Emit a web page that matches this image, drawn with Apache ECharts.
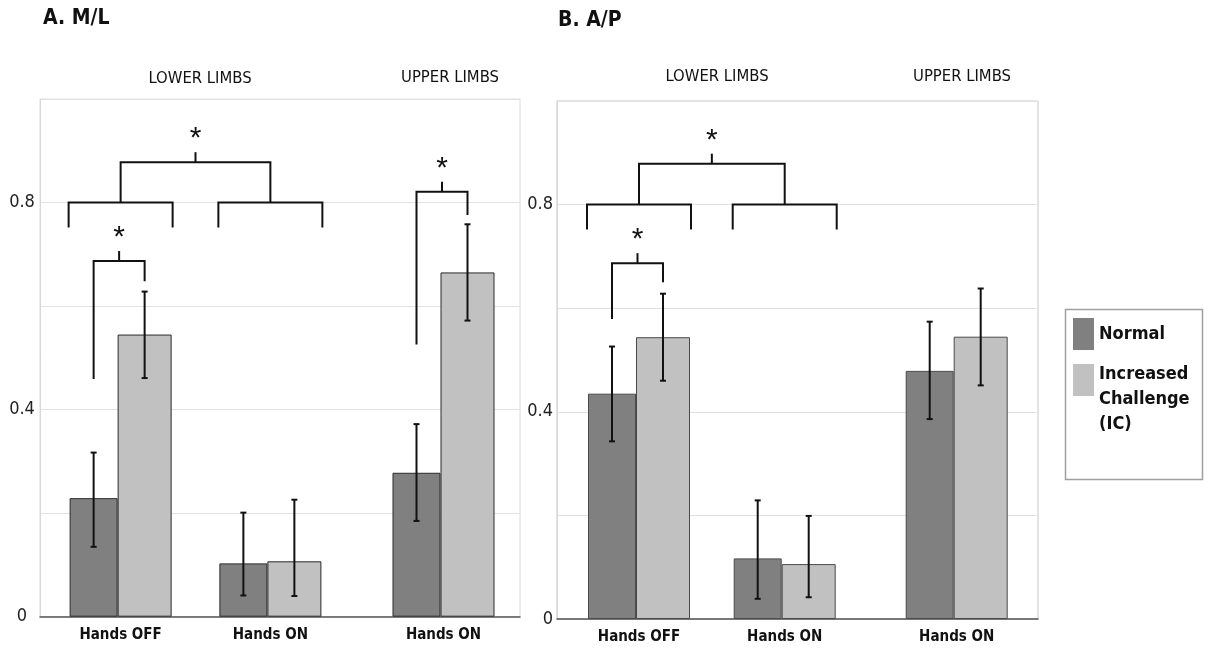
<!DOCTYPE html>
<html>
<head>
<meta charset="utf-8">
<script src="https://cdn.jsdelivr.net/npm/echarts@6/dist/echarts.min.js"></script>
<style>
  html, body { margin: 0; padding: 0; background: #fff; }
  #chart { width: 1210px; height: 652px; }
</style>
</head>
<body>
<div id="chart"></div>
<script>
// ---------------- DATA ----------------
const lowerCats = ['Hands OFF', 'Hands ON'];
const upperCats = ['Hands ON'];
const seriesNames = ['Normal', 'Increased Challenge (IC)'];
const panelTitles = ['A. M/L', 'B. A/P'];
const groupTitles = ['LOWER LIMBS', 'UPPER LIMBS'];
const yTickLabels = ['0', '', '0.4', '', '0.8', ''];   // ticks 0, 0.2, ... 1.0

// Panel A (M/L): means
const mlNormalLower = [0.229, 0.103];
const mlICLower = [0.545, 0.107];
const mlNormalUpper = [0.278];
const mlICUpper = [0.665];
// Panel A: error bars [low, high]
const mlNormalLowerErr = [[0.135, 0.317], [0.041, 0.201]];
const mlICLowerErr = [[0.461, 0.628], [0.040, 0.226]];
const mlNormalUpperErr = [[0.185, 0.372]];
const mlICUpperErr = [[0.572, 0.758]];

// Panel B (A/P): means
const apNormalLower = [0.435, 0.117];
const apICLower = [0.544, 0.106];
const apNormalUpper = [0.479];
const apICUpper = [0.545];
// Panel B: error bars [low, high]
const apNormalLowerErr = [[0.343, 0.526], [0.039, 0.229]];
const apICLowerErr = [[0.460, 0.628], [0.042, 0.199]];
const apNormalUpperErr = [[0.386, 0.574]];
const apICUpperErr = [[0.451, 0.638]];

// Significance annotations (data units): [category, bracket level, Normal leg end, IC leg end]
const mlPairLower = [[0, 0.687, 0.459, 0.648]];
const mlPairUpper = [[0, 0.821, 0.526, 0.776]];
const apPairLower = [[0, 0.687, 0.579, 0.650]];
const apPairUpper = [];
// Group comparison (lower limbs): [sub-bracket level, leg end, top bracket level]
const mlGroupBracket = [[0.80, 0.752, 0.878]];
const apGroupBracket = [[0.80, 0.752, 0.879]];

// ---------------- STYLE / LAYOUT ----------------
const NARROW = "'DejaVu Sans Condensed', 'Liberation Sans Narrow', 'Liberation Sans', sans-serif";
const C_NORMAL = '#808080';
const C_IC = '#c1c1c1';
const BAR_N = 48, BAR_IC = 54;
const OFF_N = -(BAR_N + BAR_IC) / 2 + BAR_N / 2;
const OFF_IC = -(BAR_N + BAR_IC) / 2 + BAR_N + BAR_IC / 2;
const HALF_GROUP = 52;
const TICK = 10, STAR_GAP = 13;
const INK = '#111';

const panels = [
  { bg: { left: 40, top: 99, right: 690, bottom: 35.3 },
    lower: { left: 45.75, width: 299.5 }, upper: { left: 368.75, width: 149.5 },
    labelAlign: 'center', labelMargin: 18, frame: '#dcdcdc', edge: '#2a2a2a',
    nL: mlNormalLower, iL: mlICLower, nU: mlNormalUpper, iU: mlICUpper,
    nLE: mlNormalLowerErr, iLE: mlICLowerErr, nUE: mlNormalUpperErr, iUE: mlICUpperErr,
    pL: mlPairLower, pU: mlPairUpper, gB: mlGroupBracket },
  { bg: { left: 557, top: 101, right: 172, bottom: 33 },
    lower: { left: 566.15, width: 291.4 }, upper: { left: 883.85, width: 145.7 },
    labelAlign: 'right', labelMargin: 4, frame: '#c8c8c8', edge: '#4a4a4a',
    nL: apNormalLower, iL: apICLower, nU: apNormalUpper, iU: apICUpper,
    nLE: apNormalLowerErr, iLE: apICLowerErr, nUE: apNormalUpperErr, iUE: apICUpperErr,
    pL: apPairLower, pU: apPairUpper, gB: apGroupBracket }
];

const grid = [], xAxis = [], yAxis = [], series = [];

function line(x1, y1, x2, y2) {
  return { type: 'line', shape: { x1, y1, x2, y2 }, style: { stroke: INK, lineWidth: 2 } };
}
function poly(points) {
  return { type: 'polyline', shape: { points }, style: { stroke: INK, lineWidth: 2, fill: null } };
}
function star(x, y) {
  return { type: 'text', style: { text: '*', x, y, fill: INK, fontSize: 30, fontFamily: 'Liberation Sans',
    align: 'center', verticalAlign: 'middle' } };
}

function errorSeries(idx, errs, offset) {
  return {
    type: 'custom', xAxisIndex: idx, yAxisIndex: idx, z: 4, silent: true,
    data: errs.map((e, i) => [i, e[0], e[1]]),
    encode: { x: 0, y: [1, 2] },
    renderItem: (params, api) => {
      const lo = api.coord([api.value(0), api.value(1)]);
      const hi = api.coord([api.value(0), api.value(2)]);
      const x = lo[0] + offset;
      return { type: 'group', children: [
        line(x, hi[1], x, lo[1]), line(x - 3, hi[1], x + 3, hi[1]), line(x - 3, lo[1], x + 3, lo[1])
      ] };
    }
  };
}

function pairSeries(idx, items) {
  return {
    type: 'custom', xAxisIndex: idx, yAxisIndex: idx, z: 5, silent: true,
    data: items,
    encode: { x: 0, y: [1, 2, 3] },
    renderItem: (params, api) => {
      const c = api.coord([api.value(0), api.value(1)]);
      const yN = api.coord([api.value(0), api.value(2)])[1];
      const yI = api.coord([api.value(0), api.value(3)])[1];
      const xL = c[0] + OFF_N, xR = c[0] + OFF_IC, xm = (xL + xR) / 2;
      return { type: 'group', children: [
        poly([[xL, yN], [xL, c[1]], [xR, c[1]], [xR, yI]]),
        line(xm, c[1], xm, c[1] - TICK),
        star(xm, c[1] - TICK - STAR_GAP)
      ] };
    }
  };
}

function groupSeries(idx, items) {
  return {
    type: 'custom', xAxisIndex: idx, yAxisIndex: idx, z: 5, silent: true,
    data: items,
    encode: { y: [0, 1, 2] },
    renderItem: (params, api) => {
      const a = api.coord([0, api.value(0)]);
      const b = api.coord([1, api.value(0)]);
      const yLeg = api.coord([0, api.value(1)])[1];
      const yTop = api.coord([0, api.value(2)])[1];
      const xm = (a[0] + b[0]) / 2;
      const kids = [];
      [a, b].forEach(p => kids.push(poly([[p[0] - HALF_GROUP, yLeg], [p[0] - HALF_GROUP, p[1]],
        [p[0] + HALF_GROUP, p[1]], [p[0] + HALF_GROUP, yLeg]])));
      kids.push(poly([[a[0], a[1]], [a[0], yTop], [b[0], yTop], [b[0], b[1]]]));
      kids.push(line(xm, yTop, xm, yTop - TICK));
      kids.push(star(xm, yTop - TICK - STAR_GAP));
      return { type: 'group', children: kids };
    }
  };
}

function barSeries(name, idx, data, color, width, edge) {
  return {
    type: 'bar', name, xAxisIndex: idx, yAxisIndex: idx, data,
    barWidth: width, barGap: '0%', z: 2,
    itemStyle: { color, borderColor: edge, borderWidth: 1 }
  };
}

panels.forEach((p, k) => {
  const base = k * 3;
  grid.push({ left: p.bg.left, top: p.bg.top, right: p.bg.right, bottom: p.bg.bottom,
    show: true, borderColor: p.frame, borderWidth: 1, backgroundColor: 'transparent' });
  xAxis.push({ gridIndex: base, type: 'value', min: 0, max: 1,
    axisLine: { show: true, lineStyle: { color: '#555', width: 1.5 } },
    axisTick: { show: false }, axisLabel: { show: false }, splitLine: { show: false } });
  yAxis.push({ gridIndex: base, type: 'value', min: 0, max: 1, interval: 0.2,
    axisLine: { show: true, lineStyle: { color: '#d8d8d8' } }, axisTick: { show: false },
    splitLine: { show: true, lineStyle: { color: '#e2e2e2', width: 1 } },
    axisLabel: { margin: p.labelMargin, align: p.labelAlign, color: '#222', fontSize: 18,
      fontFamily: NARROW, formatter: v => yTickLabels[Math.round(v / 0.2)] } });
  [[p.lower, lowerCats], [p.upper, upperCats]].forEach(([g, cats]) => {
    grid.push({ left: g.left, width: g.width, top: p.bg.top, bottom: p.bg.bottom });
    const gi = grid.length - 1;
    xAxis.push({ gridIndex: gi, type: 'category', data: cats,
      axisLine: { show: false }, axisTick: { show: false }, splitLine: { show: false },
      axisLabel: { margin: 11, color: '#111', fontSize: 15, fontWeight: 'bold', fontFamily: NARROW } });
    yAxis.push({ gridIndex: gi, type: 'value', min: 0, max: 1, show: false, splitLine: { show: false } });
  });
  const li = base + 1, ui = base + 2;
  series.push(barSeries(seriesNames[0], li, p.nL, C_NORMAL, BAR_N, p.edge));
  series.push(barSeries(seriesNames[1], li, p.iL, C_IC, BAR_IC, p.edge));
  series.push(barSeries(seriesNames[0], ui, p.nU, C_NORMAL, BAR_N, p.edge));
  series.push(barSeries(seriesNames[1], ui, p.iU, C_IC, BAR_IC, p.edge));
  series.push(errorSeries(li, p.nLE, OFF_N));
  series.push(errorSeries(li, p.iLE, OFF_IC));
  series.push(errorSeries(ui, p.nUE, OFF_N));
  series.push(errorSeries(ui, p.iUE, OFF_IC));
  if (p.pL.length) series.push(pairSeries(li, p.pL));
  if (p.pU.length) series.push(pairSeries(ui, p.pU));
  series.push(groupSeries(li, p.gB));
});

const titleStyleBold = { fontSize: 21, fontWeight: 'bold', fontFamily: NARROW, color: '#111' };
const titleStyleReg = { fontSize: 16.5, fontWeight: 'normal', fontFamily: NARROW, color: '#111' };
const title = [
  { text: panelTitles[0], left: 43, top: 8, padding: 0, textStyle: titleStyleBold },
  { text: panelTitles[1], left: 558, top: 10, padding: 0, textStyle: titleStyleBold },
  { text: groupTitles[0], left: 200, top: 70, padding: 0, textAlign: 'center', textStyle: titleStyleReg },
  { text: groupTitles[1], left: 450, top: 69, padding: 0, textAlign: 'center', textStyle: titleStyleReg },
  { text: groupTitles[0], left: 717, top: 68, padding: 0, textAlign: 'center', textStyle: titleStyleReg },
  { text: groupTitles[1], left: 962, top: 68, padding: 0, textAlign: 'center', textStyle: titleStyleReg }
];

const legendFont = { fontSize: 18, fontWeight: 'bold', fontFamily: NARROW, color: '#111', lineHeight: 25 };
const legend = [
  { data: [seriesNames[0]], orient: 'vertical', left: 1073, top: 318, padding: 0,
    itemWidth: 21, itemHeight: 32, icon: 'rect', itemStyle: { borderWidth: 0 },
    textStyle: legendFont },
  { data: [seriesNames[1]], orient: 'vertical', left: 1073, top: 323.5, padding: 0,
    itemWidth: 21, itemHeight: 32, icon: 'rect', itemStyle: { borderWidth: 0 },
    textStyle: Object.assign({}, legendFont, {
      rich: { e: { fontSize: 2, lineHeight: 38 }, t: legendFont } }),
    formatter: n => '{e| }\n' + n.replace('Increased Challenge (IC)', 'Increased\nChallenge\n(IC)')
      .split('\n').map(s => '{t|' + s + '}').join('\n') }
];

const chart = echarts.init(document.getElementById('chart'), null, { renderer: 'canvas' });
chart.setOption({
  animation: false,
  backgroundColor: '#fff',
  title, legend, grid, xAxis, yAxis, series,
  graphic: [{ type: 'rect', left: 1063, top: 307, shape: { width: 137, height: 170 },
    style: { fill: 'none', stroke: '#a0a0a0', lineWidth: 1.5 }, silent: true }]
});
</script>
</body>
</html>
